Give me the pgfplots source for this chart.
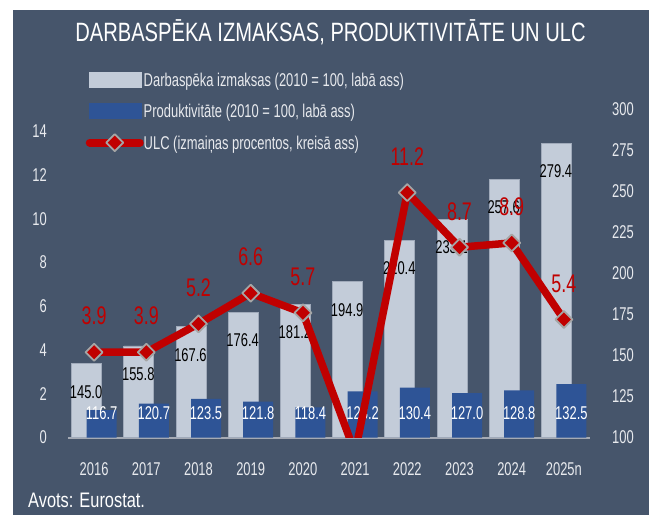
\documentclass[border=0pt]{standalone}
\usepackage{fontspec}
\setmainfont[FakeStretch=0.7]{Liberation Sans}
\newfontfamily\footfont[FakeStretch=0.78]{Liberation Sans}
\newfontfamily\titlefont[FakeStretch=0.76]{Liberation Sans}
\usepackage{pgfplots}
\usepackage{pgfplotstable}
\pgfplotsset{compat=1.18}

\definecolor{bg}{RGB}{70,85,107}
\definecolor{costbar}{RGB}{195,204,217}
\definecolor{costedge}{RGB}{160,170,186}
\definecolor{prodbar}{RGB}{46,84,150}
\definecolor{ulc}{RGB}{192,0,0}
\definecolor{markedge}{RGB}{165,165,165}
\definecolor{ticktext}{RGB}{232,234,238}
\definecolor{baseline}{RGB}{165,170,180}

\newcommand\tickfont{\fontsize{18.5}{20}\selectfont}
\newcommand\barfont{\fontsize{18.5}{20}\selectfont}

% labour cost and productivity, 2010 = 100 (right axis)
\pgfplotstableread{
x cost costlab prod prodlab
0 145.0 145.0 116.7 116.7
1 155.8 155.8 120.7 120.7
2 167.6 167.6 123.5 123.5
3 176.4 176.4 121.8 121.8
4 181.2 181.2 118.4 118.4
5 194.9 194.9 128.2 128.2
6 220.4 220.4 130.4 130.4
7 233.1 233.1 127.0 127.0
8 257.6 257.6 128.8 128.8
9 279.4 279.4 132.5 132.5
}\bars

% ULC, % change (left axis)
\pgfplotstableread{
x ulc lab
0 3.9 3.9
1 3.9 3.9
2 5.2 5.2
3 6.6 6.6
4 5.7 5.7
5 -0.7 {}
6 11.2 11.2
7 8.7 8.7
8 8.9 8.9
9 5.4 5.4
}\ulcdata

\begin{document}
\begin{tikzpicture}
\fill[white] (-68pt,-77.5pt) rectangle (581pt,437.5pt);
\fill[bg] (-55.3pt,-77.5pt) rectangle (581pt,427.5pt);

\node[anchor=base, text=white, font=\titlefont\fontsize{26.5}{28}\selectfont, inner sep=0pt]
  at (262.5pt,395.5pt) {DARBASPĒKA IZMAKSAS, PRODUKTIVITĀTE UN ULC};
\node[anchor=base west, inner sep=0pt, text=white, font=\footfont\fontsize{21}{22}\selectfont]
  at (-40pt,-70pt) {Avots: Eurostat.};

% bars, right axis
\begin{axis}[
  scale only axis, width=522pt, height=328pt,
  at={(0pt,0pt)}, anchor=south west,
  xmin=-0.5, xmax=9.5, ymin=100, ymax=300,
  axis x line*=bottom, axis y line*=right,
  y axis line style={draw=none},
  x axis line style={draw=baseline, line width=2pt, -},
  xtick=\empty,
  ytick={100,125,...,300},
  major tick length=0pt,
  tick label style={font=\tickfont, text=ticktext},
  /pgf/number format/assume math mode=true,
  yticklabel style={anchor=west, inner sep=0pt, xshift=22pt},
]
\addplot[ybar, bar width=30pt, bar shift=-7.5pt, fill=costbar, draw=costedge, line width=0.8pt,
  nodes near coords, point meta=explicit symbolic,
  every node near coord/.append style={anchor=center, xshift=-8pt, yshift=-28pt, text=black, font=\barfont}]
  table[x=x, y=cost, meta=costlab] {\bars};
\addplot[ybar, bar width=30pt, bar shift=7.5pt, fill=prodbar, draw=none,
  nodes near coords, point meta=explicit symbolic,
  visualization depends on={rawy \as \ry},
  every node near coord/.append style={anchor=center, xshift=7.5pt, yshift={(115-\ry)*1.64pt}, text=white, font=\barfont}]
  table[x=x, y=prod, meta=prodlab] {\bars};
\end{axis}

% ULC line, left axis
\begin{axis}[
  scale only axis, width=522pt, height=328pt,
  at={(0pt,0pt)}, anchor=south west,
  xmin=-0.5, xmax=9.5, ymin=0, ymax=15,
  axis x line*=bottom, axis y line*=left,
  axis line style={draw=none},
  xtick={0,...,9},
  xticklabels={2016,2017,2018,2019,2020,2021,2022,2023,2024,2025n},
  ytick={0,2,...,14},
  major tick length=0pt,
  tick label style={font=\tickfont, text=ticktext},
  /pgf/number format/assume math mode=true,
  yticklabel style={anchor=east, inner sep=0pt, xshift=-21pt},
  xticklabel style={anchor=base, inner sep=0pt, yshift=-37.5pt},
  clip marker paths=true,
  legend cell align=left,
  legend style={draw=none, fill=none, inner sep=0pt, outer sep=0pt,
    at={(0.034,1.1143)}, anchor=north west,
    column sep=0pt, row sep=15.7pt,
    nodes={inner sep=0pt, text height=13.3pt, text depth=0pt, text=ticktext},
    font=\fontsize{18.5}{20}\selectfont},
]
\addlegendimage{legend image code/.code={\fill[costbar] (0pt,-7.5pt) rectangle (52pt,7.5pt);}}
\addlegendentry{Darbaspēka izmaksas (2010 = 100, labā ass)}
\addlegendimage{legend image code/.code={\fill[prodbar] (0pt,-7.5pt) rectangle (52pt,7.5pt);}}
\addlegendentry{Produktivitāte (2010 = 100, labā ass)}
\addplot[ulc, line width=7.5pt, line join=round,
  mark=square*, mark size=6pt,
  mark options={rotate=45, fill=ulc, draw=markedge, line width=1.8pt, solid},
  nodes near coords, point meta=explicit symbolic,
  every node near coord/.append style={anchor=center, yshift=36pt, text=ulc, font=\fontsize{25.5}{27}\selectfont},
  legend image code/.code={
    \draw[ulc, line width=8pt, line cap=round] (1pt,0pt) -- (51pt,0pt);
    \draw plot[mark=square*, mark size=6pt, mark options={rotate=45, fill=ulc, draw=markedge, line width=1.8pt}] coordinates {(26pt,0pt)};
  }]
  table[x=x, y=ulc, meta=lab] {\ulcdata};
\addlegendentry{ULC (izmaiņas procentos, kreisā ass)}
\end{axis}

\pgfresetboundingbox
\useasboundingbox (-68pt,-77.5pt) rectangle (581pt,437.5pt);
\end{tikzpicture}
\end{document}
